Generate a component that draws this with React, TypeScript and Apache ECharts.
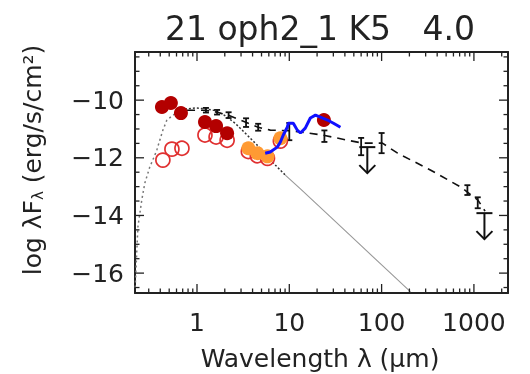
import React, { useEffect, useRef } from "react";
import * as echarts from "echarts";

const TITLE = "21 oph2_1 K5   4.0";
const X_TITLE = "Wavelength λ (μm)";
const X_MIN = 0.213;
const X_MAX = 2340;
const Y_MIN = -16.69;
const Y_MAX = -8.33;
const X_LABELS = [1, 10, 100, 1000];
const Y_LABELS = [-16, -14, -12, -10];

// observed photometry (open red circles)
const obsWl = [0.427, 0.535, 0.687, 1.22, 1.61, 2.12, 3.6, 4.5, 5.8, 8.0];
const obsFlux = [-12.08, -11.7, -11.67, -11.21, -11.28, -11.39, -11.78, -11.93, -12.02, -11.42];

// dereddened photometry (filled dark red)
const dereWl = [0.417, 0.521, 0.67, 1.22, 1.61, 2.12, 23.7];
const dereFlux = [-10.24, -10.1, -10.45, -10.76, -10.9, -11.15, -10.69];

// dereddened IRAC (orange)
const iracWl = [3.6, 4.5, 5.8, 8.0];
const iracFlux = [-11.67, -11.84, -11.95, -11.32];

// IRS spectrum (blue)
const irsWl = [5.48, 6.22, 7.41, 7.98, 8.61, 9.51, 9.75, 11.05, 12.2, 13.2, 14.9, 16.9, 19.2, 21.7, 25.9, 30.1, 35.8];
const irsFlux = [-11.84, -11.8, -11.63, -11.46, -11.21, -10.94, -10.8, -10.8, -11.04, -11.14, -10.97, -10.62, -10.52, -10.59, -10.69, -10.8, -10.94];

// median SED (dashed)
const medWl = [0.78, 1.22, 1.65, 2.17, 3.33, 4.6, 6.22, 10.3, 15.7, 22.8, 42.7, 62, 102, 149, 341, 723, 1105, 1320];
const medFlux = [-10.35, -10.35, -10.42, -10.52, -10.76, -10.94, -11.04, -11.06, -11.14, -11.21, -11.39, -11.49, -11.49, -11.84, -12.43, -13.02, -13.47, -13.85];

// median error bars
const errWl = [1.25, 1.65, 2.2, 3.4, 4.6, 10, 24, 60, 100, 850, 1100];
const errFlux = [-10.35, -10.42, -10.52, -10.78, -10.94, -11.09, -11.25, -11.61, -11.49, -13.12, -13.56];
const errSize = [0.08, 0.08, 0.1, 0.15, 0.12, 0.3, 0.2, 0.3, 0.35, 0.17, 0.19];

// upper limits
const ulWl = [70, 1300];
const ulFlux = [-11.63, -13.92];

// stellar photosphere
const photoWienWl = [0.214, 0.223, 0.229, 0.252, 0.272, 0.308, 0.349, 0.367, 0.427, 0.472, 0.535, 0.607, 0.74];
const photoWienFlux = [-16.5, -15.2, -14.4, -13.47, -12.88, -12.32, -11.91, -11.73, -11.04, -10.69, -10.55, -10.42, -10.31];
const photoPeakWl = [0.74, 0.95, 1.22, 1.57, 1.97, 2.59, 3.49, 4.49, 7.04, 9.05];
const photoPeakFlux = [-10.31, -10.27, -10.3, -10.36, -10.52, -10.8, -11.21, -11.56, -12.25, -12.6];
const photoTailWl = [9.05, 13.2, 27.9, 60, 120, 206];
const photoTailFlux = [-12.6, -13.08, -14.05, -15.05, -15.95, -16.65];

const FONT = "DejaVu Sans";
const TEXT = "#222";

const zip = (a: number[], b: number[]) => a.map((v, i) => [v, b[i]]);

export default function App() {
  const ref = useRef<HTMLDivElement>(null);
  useEffect(() => {
    if (!ref.current) return;
    const chart = echarts.init(ref.current, undefined, { renderer: "svg" });

    const xMinor: number[] = [];
    for (let d = -1; d <= 3; d++) {
      for (let k = 2; k <= 9; k++) {
        const v = k * Math.pow(10, d);
        if (v > X_MIN && v < X_MAX) xMinor.push(v);
      }
    }
    const yMinor: number[] = [];
    for (let v = -16.5; v < Y_MAX; v += 0.5) {
      if (Math.abs(v - Math.round(v)) > 0.01 || Math.round(v) % 2 !== 0) yMinor.push(v);
    }

    const tickStyle = { stroke: "#222", lineWidth: 1.3 };

    const option: any = {
      animation: false,
      grid: { left: 135, top: 52, width: 373, height: 241, containLabel: false, outerBoundsMode: "none" },
      graphic: [
        {
          type: "text",
          x: 320,
          y: 28,
          style: { text: TITLE, font: `33px "${FONT}"`, fill: TEXT, textAlign: "center", textVerticalAlign: "middle" },
        },
        {
          type: "text",
          x: 320,
          y: 358,
          style: { text: X_TITLE, font: `25px "${FONT}"`, fill: TEXT, textAlign: "center", textVerticalAlign: "middle" },
        },
        {
          type: "text",
          x: 30,
          y: 160,
          rotation: Math.PI / 2,
          style: {
            text: "{n|log λF}{s|λ}{n| (erg/s/cm²)}",
            textAlign: "center",
            textVerticalAlign: "middle",
            fill: TEXT,
            rich: {
              n: { fontSize: 25, fontFamily: FONT, lineHeight: 30, verticalAlign: "bottom", fill: TEXT },
              s: { fontSize: 15, fontFamily: FONT, lineHeight: 10, verticalAlign: "bottom", fill: TEXT },
            },
          },
        },
      ],
      xAxis: [
        {
          type: "log",
          min: X_MIN,
          max: X_MAX,
          position: "bottom",
          axisLine: { show: true, lineStyle: { color: "#222", width: 2 } },
          axisTick: { show: false },
          splitLine: { show: false },
          axisLabel: {
            show: true,
            showMinLabel: false,
            showMaxLabel: false,
            margin: 17,
            color: TEXT,
            fontSize: 25,
            fontFamily: FONT,
            formatter: (v: number) => {
              const l = Math.log10(v);
              const r = Math.round(l);
              if (Math.abs(l - r) < 1e-6 && X_LABELS.indexOf(Math.pow(10, r)) >= 0) return String(Math.pow(10, r));
              return "";
            },
          },
        },
        {
          type: "log",
          min: X_MIN,
          max: X_MAX,
          position: "top",
          axisLine: { show: true, lineStyle: { color: "#222", width: 2 } },
          axisTick: { show: false },
          splitLine: { show: false },
          axisLabel: { show: false },
        },
      ],
      yAxis: [
        {
          type: "value",
          min: Y_MIN,
          max: Y_MAX,
          splitNumber: 4,
          position: "left",
          axisLine: { show: true, lineStyle: { color: "#222", width: 2 } },
          axisTick: { show: false },
          splitLine: { show: false },
          axisLabel: {
            showMinLabel: false,
            showMaxLabel: false,
            margin: 11,
            color: TEXT,
            fontSize: 25,
            fontFamily: FONT,
            formatter: (v: number) => {
              const r = Math.round(v);
              if (Math.abs(v - r) < 1e-6 && Y_LABELS.indexOf(r) >= 0) return "−" + Math.abs(r);
              return "";
            },
          },
        },
        {
          type: "value",
          min: Y_MIN,
          max: Y_MAX,
          position: "right",
          axisLine: { show: true, lineStyle: { color: "#222", width: 2 } },
          axisTick: { show: false },
          splitLine: { show: false },
          axisLabel: { show: false },
        },
      ],
      series: [
        {
          type: "custom",
          name: "ticks",
          silent: true,
          data: [[1, -12]],
          renderItem: (params: any, api: any) => {
            const cs = params.coordSys;
            const x0 = cs.x, y0 = cs.y, x1 = cs.x + cs.width, y1 = cs.y + cs.height;
            const children: any[] = [];
            const addX = (v: number, len: number) => {
              const px = api.coord([v, -12])[0];
              children.push({ type: "line", shape: { x1: px, y1: y1, x2: px, y2: y1 - len }, style: tickStyle });
              children.push({ type: "line", shape: { x1: px, y1: y0, x2: px, y2: y0 + len }, style: tickStyle });
            };
            const addY = (v: number, len: number) => {
              const py = api.coord([1, v])[1];
              children.push({ type: "line", shape: { x1: x0, y1: py, x2: x0 + len, y2: py }, style: tickStyle });
              children.push({ type: "line", shape: { x1: x1, y1: py, x2: x1 - len, y2: py }, style: tickStyle });
            };
            X_LABELS.forEach((v) => addX(v, 9));
            xMinor.forEach((v) => addX(v, 4.5));
            Y_LABELS.forEach((v) => addY(v, 9));
            yMinor.forEach((v) => addY(v, 4.5));
            return { type: "group", children };
          },
          z: 10,
        },
        {
          type: "line",
          name: "photosphere wien",
          data: zip(photoWienWl, photoWienFlux),
          showSymbol: false,
          lineStyle: { color: "#777", width: 1.5, type: [2, 3] },
          z: 2,
        },
        {
          type: "line",
          name: "photosphere peak",
          data: zip(photoPeakWl, photoPeakFlux),
          showSymbol: false,
          lineStyle: { color: "#333", width: 1.5, type: [2, 2] },
          z: 2,
        },
        {
          type: "line",
          name: "photosphere tail",
          data: zip(photoTailWl, photoTailFlux),
          showSymbol: false,
          lineStyle: { color: "#999", width: 1.1 },
          z: 2,
        },
        {
          type: "line",
          name: "median",
          data: zip(medWl, medFlux),
          showSymbol: false,
          lineStyle: { color: "#111", width: 1.6, type: [8, 6] },
          z: 3,
        },
        {
          type: "custom",
          name: "median errors",
          data: errWl.map((w, i) => [w, errFlux[i], errSize[i]]),
          renderItem: (params: any, api: any) => {
            const x = api.value(0), y = api.value(1), e = api.value(2);
            const t = api.coord([x, y + e]);
            const b = api.coord([x, y - e]);
            const st = { stroke: "#111", lineWidth: 1.8 };
            return {
              type: "group",
              children: [
                { type: "line", shape: { x1: t[0], y1: t[1], x2: b[0], y2: b[1] }, style: st },
                { type: "line", shape: { x1: t[0] - 3, y1: t[1], x2: t[0] + 3, y2: t[1] }, style: st },
                { type: "line", shape: { x1: b[0] - 3, y1: b[1], x2: b[0] + 3, y2: b[1] }, style: st },
              ],
            };
          },
          z: 4,
        },
        {
          type: "scatter",
          name: "observed",
          data: zip(obsWl, obsFlux),
          symbol: "circle",
          symbolSize: 14,
          itemStyle: { color: "rgba(255,255,255,0)", borderColor: "#e03030", borderWidth: 1.7, opacity: 1 },
          z: 5,
        },
        {
          type: "scatter",
          name: "dereddened",
          data: zip(dereWl, dereFlux),
          symbol: "circle",
          symbolSize: 14,
          itemStyle: { color: "#b30000", opacity: 1 },
          z: 6,
        },
        {
          type: "scatter",
          name: "irac",
          data: zip(iracWl, iracFlux),
          symbol: "circle",
          symbolSize: 14,
          itemStyle: { color: "#ff9a33", opacity: 1 },
          z: 6,
        },
        {
          type: "line",
          name: "irs",
          data: zip(irsWl, irsFlux),
          showSymbol: false,
          lineStyle: { color: "#1010ff", width: 3 },
          z: 7,
        },
        {
          type: "custom",
          name: "upper limits",
          data: zip(ulWl, ulFlux),
          renderItem: (params: any, api: any) => {
            const p = api.coord([api.value(0), api.value(1)]);
            const len = 26;
            const st = { stroke: "#111", lineWidth: 2 };
            return {
              type: "group",
              children: [
                { type: "line", shape: { x1: p[0] - 8, y1: p[1], x2: p[0] + 8, y2: p[1] }, style: st },
                { type: "line", shape: { x1: p[0], y1: p[1], x2: p[0], y2: p[1] + len }, style: st },
                { type: "polyline", shape: { points: [[p[0] - 8, p[1] + len - 8], [p[0], p[1] + len], [p[0] + 8, p[1] + len - 8]] }, style: { ...st, fill: "none" } },
              ],
            };
          },
          z: 8,
        },
      ],
    };
    chart.setOption(option);
    return () => chart.dispose();
  }, []);
  return <div ref={ref} style={{ position: "fixed", left: 0, top: 0, width: 530, height: 374 }} />;
}
